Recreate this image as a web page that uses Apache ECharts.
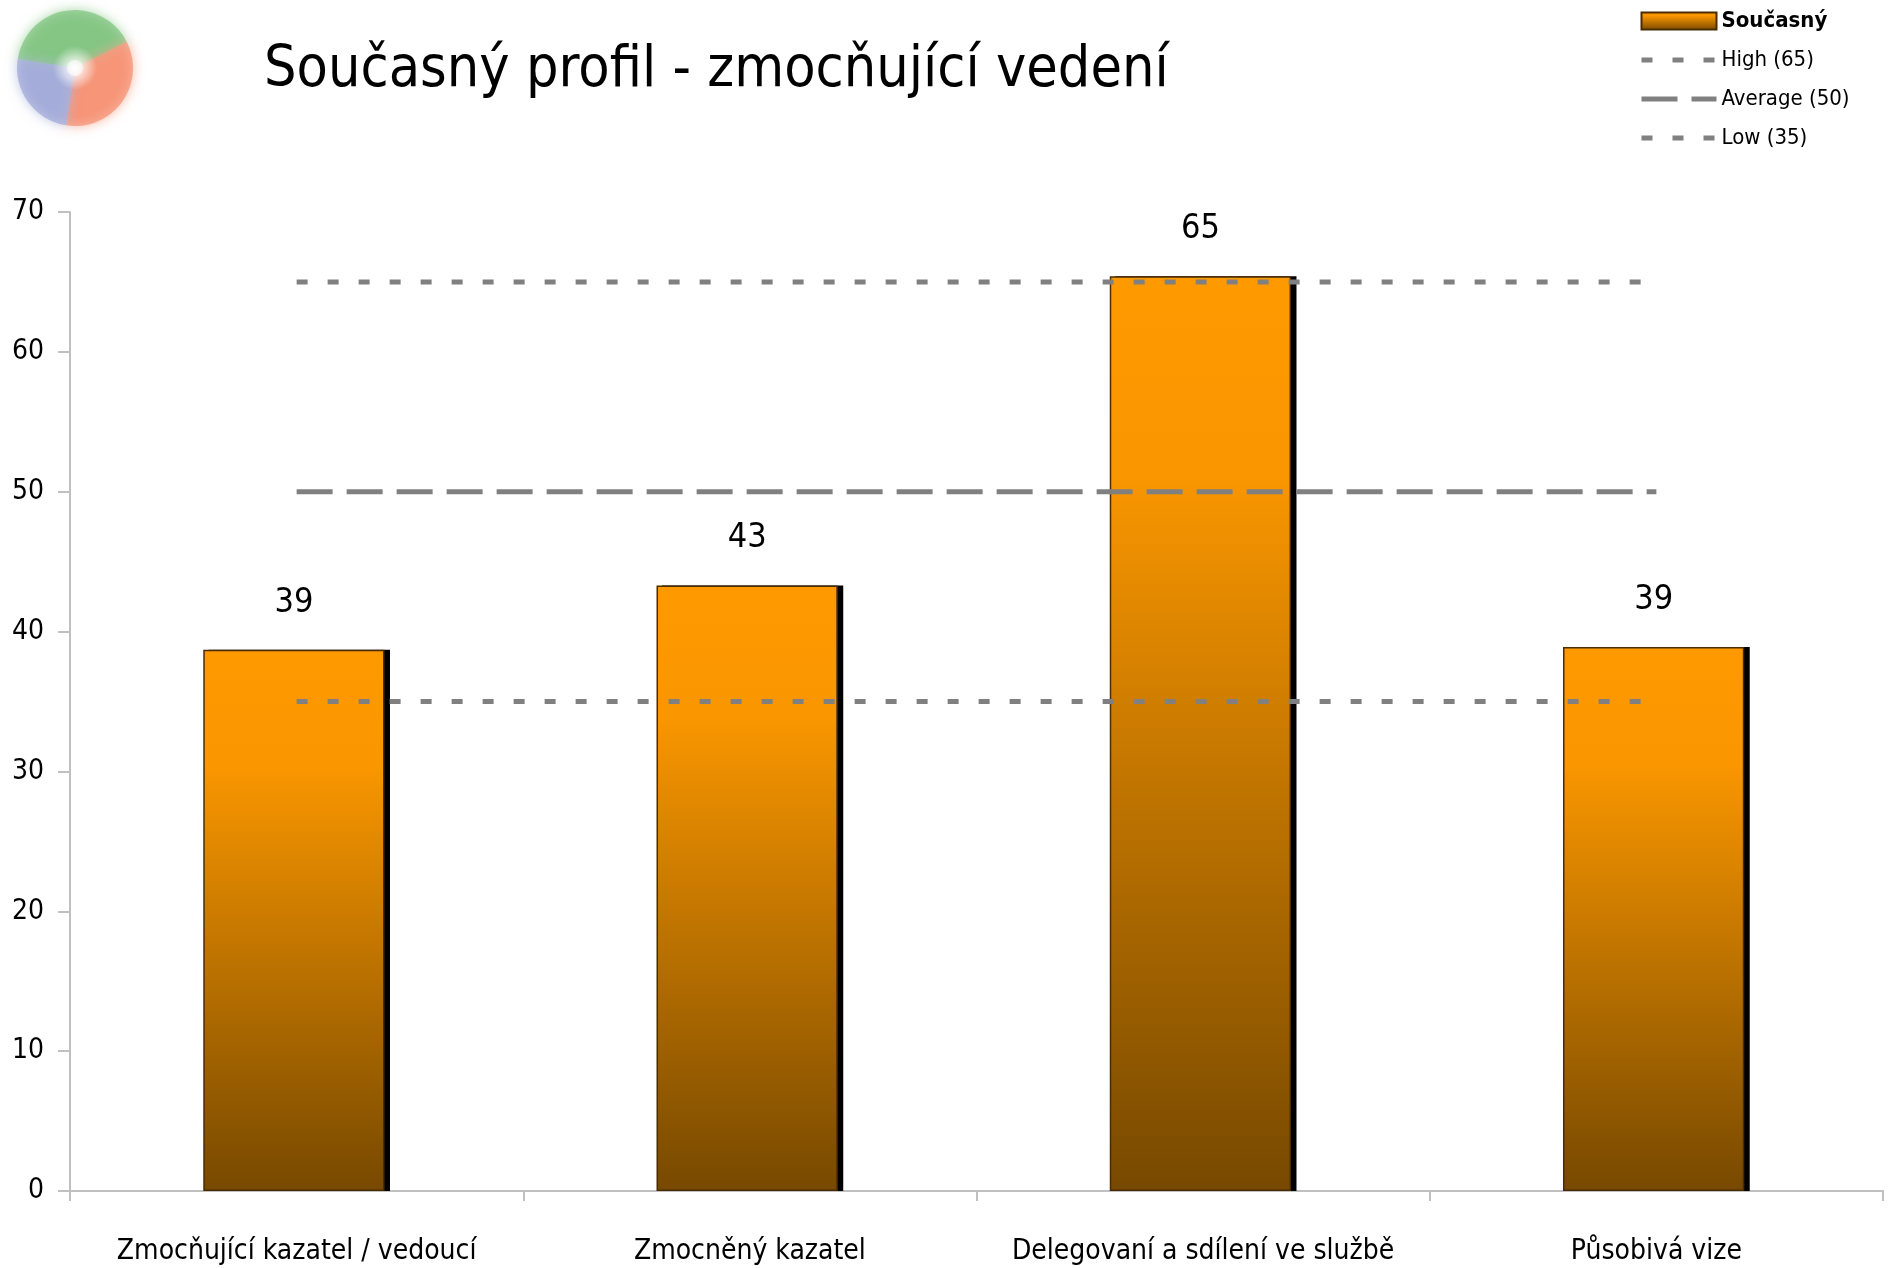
<!DOCTYPE html>
<html>
<head>
<meta charset="utf-8">
<script src="https://cdn.jsdelivr.net/npm/echarts@6/dist/echarts.min.js"></script>
<style>
  html, body { margin: 0; padding: 0; background: #fff; }
  #chart { width: 1889px; height: 1268px; }
</style>
</head>
<body>
<div id="chart"></div>
<script>
var categories = ['Zmocňující kazatel / vedoucí', 'Zmocněný kazatel', 'Delegovaní a sdílení ve službě', 'Působivá vize'];
var currentValues = [38.7, 43.3, 65.4, 38.9];
var highValues = [65, 65, 65, 65];
var averageValues = [50, 50, 50, 50];
var lowValues = [35, 35, 35, 35];

var font = '"DejaVu Sans Condensed", "DejaVu Sans", sans-serif';
var myChart = echarts.init(document.getElementById('chart'));

var barColor = new echarts.graphic.LinearGradient(0, 0, 0, 1, [
    { offset: 0, color: '#ff9900' },
    { offset: 0.22, color: '#f99600' },
    { offset: 1, color: '#774900' }
]);

// logo top-left, only decoration
function logoPart(start, end, color) {
    return {
        type: 'sector',
        shape: { cx: 75, cy: 68, r: 58, r0: 8, startAngle: start, endAngle: end },
        style: { fill: color, opacity: 0.55, shadowBlur: 12, shadowColor: color }
    };
}

var option = {
    backgroundColor: '#fff',
    title: {
        text: 'Současný profil - zmocňující vedení',
        left: 259,
        top: 38,
        textStyle: { fontFamily: font, fontSize: 57, fontWeight: 'normal', color: '#000' }
    },
    graphic: [
        logoPart(Math.PI * 1.05, Math.PI * 1.85, '#66b866'),
        logoPart(Math.PI * 1.85, Math.PI * 2.55, '#f47a55'),
        logoPart(Math.PI * 0.55, Math.PI * 1.05, '#8c97cf'),
        {
            type: 'circle',
            shape: { cx: 75, cy: 68, r: 22 },
            style: {
                fill: new echarts.graphic.RadialGradient(0.5, 0.5, 0.5, [
                    { offset: 0, color: 'rgba(255,255,255,1)' },
                    { offset: 1, color: 'rgba(255,255,255,0)' }
                ])
            }
        }
    ],
    legend: {
        orient: 'vertical',
        left: 1634,
        top: 5,
        itemWidth: 75,
        itemHeight: 17,
        itemGap: 17,
        lineStyle: { width: 5 },
        textStyle: { fontFamily: font, fontSize: 22, color: '#000' },
        data: [
            { name: 'Současný', icon: 'rect', textStyle: { fontWeight: 'bold' } },
            { name: 'High (65)', itemStyle: { opacity: 0 } },
            { name: 'Average (50)', itemStyle: { opacity: 0 } },
            { name: 'Low (35)', itemStyle: { opacity: 0 } }
        ]
    },
    grid: { left: 70, right: 6, top: 212, bottom: 77 },
    xAxis: {
        type: 'category',
        data: categories,
        axisLine: { lineStyle: { color: '#c0c0c0', width: 2 } },
        axisTick: { show: true, length: 10, lineStyle: { color: '#c0c0c0', width: 2 } },
        axisLabel: { fontFamily: font, fontSize: 28, color: '#000', margin: 47, interval: 0 }
    },
    yAxis: {
        type: 'value',
        min: 0,
        max: 70,
        interval: 10,
        axisLine: { show: true, lineStyle: { color: '#c0c0c0', width: 2 } },
        axisTick: { show: true, length: 12, lineStyle: { color: '#c0c0c0', width: 2 } },
        axisLabel: { fontFamily: font, fontSize: 28, color: '#000', margin: 26 },
        splitLine: { show: false }
    },
    series: [
        {
            name: 'Současný',
            type: 'bar',
            barWidth: '40%',
            barGap: '-97%',
            data: currentValues,
            itemStyle: {
                color: barColor,
                borderColor: '#4a2c00',
                borderWidth: 1.5
            },
            label: {
                show: true,
                position: 'top',
                distance: 30,
                fontFamily: font,
                fontSize: 34,
                color: '#000',
                formatter: function (p) { return Math.round(p.value); }
            },
            z: 3
        },
        {
            // black drop shadow behind each bar
            name: 'shadow',
            type: 'bar',
            barWidth: '40%',
            barGap: '-97%',
            data: currentValues,
            itemStyle: { color: '#000' },
            silent: true,
            z: 2
        },
        {
            name: 'High (65)',
            type: 'line',
            data: highValues,
            symbol: 'none',
            lineStyle: { color: '#808080', width: 5, type: [11, 20], cap: 'butt' },
            itemStyle: { color: '#808080' },
            z: 4
        },
        {
            name: 'Average (50)',
            type: 'line',
            data: averageValues,
            symbol: 'none',
            lineStyle: { color: '#808080', width: 5, type: [36, 14], cap: 'butt' },
            itemStyle: { color: '#808080' },
            z: 4
        },
        {
            name: 'Low (35)',
            type: 'line',
            data: lowValues,
            symbol: 'none',
            lineStyle: { color: '#808080', width: 5, type: [11, 20], cap: 'butt' },
            itemStyle: { color: '#808080' },
            z: 4
        }
    ]
};

myChart.setOption(option);
</script>
</body>
</html>
